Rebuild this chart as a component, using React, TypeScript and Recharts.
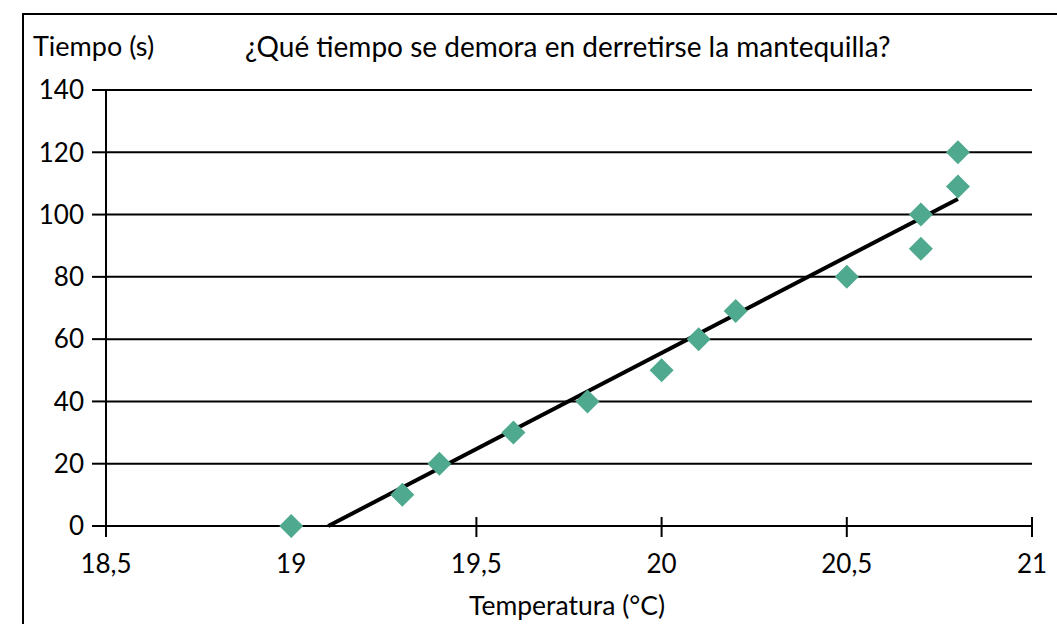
import React from "react";
import { ComposedChart, Scatter, XAxis, YAxis, CartesianGrid } from "recharts";

const temps = [19, 19.3, 19.4, 19.6, 19.8, 20, 20.1, 20.2, 20.5, 20.7, 20.7, 20.8, 20.8];
const times = [0, 10, 20, 30, 40, 50, 60, 69, 80, 100, 89, 109, 120];
const trendTemps = [19.1, 20.8];
const trendTimes = [0, 105];
const xTicks = [18.5, 19, 19.5, 20, 20.5, 21];
const yTicks = [0, 20, 40, 60, 80, 100, 120, 140];

const points = temps.map((t, i) => ({ x: t, y: times[i] }));
const trend = trendTemps.map((t, i) => ({ x: t, y: trendTimes[i] }));

const FONT = "Lato, 'Noto Sans', sans-serif";
const fmt = (v: number) => String(v).replace(".", ",");

const Diamond = (props: any) => {
  const { cx, cy } = props;
  const r = 12;
  return (
    <polygon
      points={`${cx},${cy - r} ${cx + r},${cy} ${cx},${cy + r} ${cx - r},${cy}`}
      fill="#4fa98f"
    />
  );
};

const XTick = (props: any) => {
  const { x, y, payload } = props;
  return (
    <g>
      <line x1={x} x2={x} y1={y - 9} y2={y + 11} stroke="#000" strokeWidth={2} />
      <text x={x} y={y + 47} textAnchor="middle" fontSize={26} fontFamily={FONT} fill="#000">
        {fmt(payload.value)}
      </text>
    </g>
  );
};

export default function App() {
  return (
    <div style={{ position: "fixed", left: 0, top: 0, width: 1057, height: 624, overflow: "hidden", background: "#fff" }}>
      <div
        style={{
          position: "absolute",
          left: 22,
          top: 13,
          width: 1100,
          height: 700,
          border: "2px solid #000",
        }}
      />
      <div style={{ position: "absolute", left: 33, top: 29, fontFamily: FONT, fontSize: 27, lineHeight: "34px" }}>Tiempo (s)</div>
      <div style={{ position: "absolute", left: 245, top: 29, fontFamily: FONT, fontSize: 28, lineHeight: "34px", whiteSpace: "nowrap" }}>
        ¿Qué tiempo se demora en derretirse la mantequilla?
      </div>
      <div style={{ position: "absolute", left: 469, top: 588, fontFamily: FONT, fontSize: 26.5, lineHeight: "34px" }}>Temperatura (°C)</div>
      <div style={{ position: "absolute", left: 0, top: 0 }}>
        <ComposedChart width={1057} height={624} margin={{ top: 90, right: 25, bottom: 38, left: 46 }}>
          <CartesianGrid vertical={false} stroke="#000" strokeWidth={2} />
          <XAxis
            dataKey="x"
            type="number"
            domain={[18.5, 21]}
            ticks={xTicks}
            height={60}
            tickSize={0}
            tickMargin={0}
            tickLine={false}
            axisLine={{ stroke: "#000", strokeWidth: 2 }}
            tick={<XTick />}
            allowDataOverflow
          />
          <YAxis
            dataKey="y"
            type="number"
            domain={[0, 140]}
            ticks={yTicks}
            width={60}
            tickSize={14}
            tickMargin={8}
            tickLine={{ stroke: "#000", strokeWidth: 2 }}
            axisLine={{ stroke: "#000", strokeWidth: 2 }}
            tick={{ fill: "#000", fontSize: 26, fontFamily: FONT }}
          />
          <Scatter
            data={trend}
            line={{ stroke: "#000", strokeWidth: 4 }}
            shape={() => <g />}
            isAnimationActive={false}
          />
        </ComposedChart>
      </div>
      {/* diamonds drawn in an overlay so they sit above the axis ticks */}
      <div style={{ position: "absolute", left: 0, top: 0 }}>
        <ComposedChart width={1057} height={624} margin={{ top: 90, right: 25, bottom: 98, left: 106 }}>
          <XAxis dataKey="x" type="number" domain={[18.5, 21]} hide allowDataOverflow />
          <YAxis dataKey="y" type="number" domain={[0, 140]} hide />
          <Scatter data={points} shape={<Diamond />} isAnimationActive={false} />
        </ComposedChart>
      </div>
    </div>
  );
}
